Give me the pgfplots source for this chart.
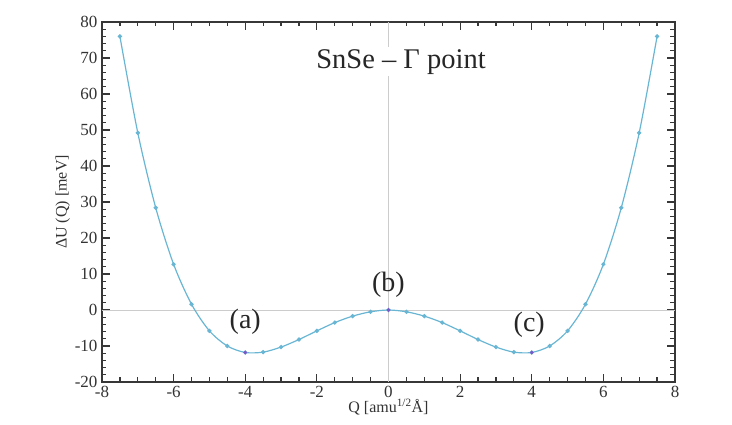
\documentclass[border=0pt]{standalone}
\usepackage{pgfplots}
\pgfplotsset{compat=1.18}
\usepackage{fontspec}
\setmainfont{Liberation Serif}
\pgfkeys{/pgf/number format/assume math mode=true}
\definecolor{curve}{RGB}{105,182,212}
\definecolor{purp}{RGB}{125,85,200}
\definecolor{frm}{RGB}{55,55,55}
\begin{document}
\begin{tikzpicture}
\path[use as bounding box] (-102pt,-43pt) rectangle (630pt,382pt);
\begin{axis}[
  at={(0pt,0pt)}, anchor=south west,
  scale only axis, width=573pt, height=360pt,
  xmin=-8, xmax=8, ymin=-20, ymax=80,
  xtick={-8,-6,...,8}, ytick={-20,-10,...,80},
  minor x tick num=3, minor y tick num=4,
  major tick length=8pt, minor tick length=4.5pt,
  axis line style={frm, line width=1.3pt},
  tick style={frm, line width=1.2pt},
  ticklabel style={font=\fontsize{17}{19}\selectfont, text=black!80},
  yticklabel style={xshift=-1pt},
  xticklabel style={yshift=-1pt},
  xlabel={Q [amu\textsuperscript{1/2}Å]},
  ylabel={ΔU (Q) [meV]},
  label style={font=\fontsize{16}{18}\selectfont, text=black!80},
  xlabel style={yshift=6pt},
  ylabel style={yshift=-2pt},
]
\draw[black!20, line width=0.8pt] (axis cs:-8,0) -- (axis cs:8,0);
\draw[black!20, line width=0.8pt] (axis cs:0,-20) -- (axis cs:0,80);
\addplot[curve, line width=1.2pt, smooth, mark=*, mark size=1.5pt, mark options={fill=curve, draw=curve}] coordinates {
(-7.5,76.0) (-7.0,49.2) (-6.5,28.4) (-6.0,12.7) (-5.5,1.6) (-5.0,-5.8)
(-4.5,-10.0) (-4.0,-11.8) (-3.5,-11.7) (-3.0,-10.3) (-2.5,-8.2) (-2.0,-5.8)
(-1.5,-3.5) (-1.0,-1.7) (-0.5,-0.5) (0.0,0.0) (0.5,-0.5) (1.0,-1.7)
(1.5,-3.5) (2.0,-5.8) (2.5,-8.2) (3.0,-10.3) (3.5,-11.7) (4.0,-11.8)
(4.5,-10.0) (5.0,-5.8) (5.5,1.6) (6.0,12.7) (6.5,28.4) (7.0,49.2) (7.5,76.0)
};
\addplot[only marks, mark=*, mark size=1.6pt, purp] coordinates {(-4,-11.8) (0,0) (4,-11.8)};
\node[fill=white, inner sep=2pt, font=\fontsize{28.5}{31}\selectfont, text=black!85] at (axis cs:0.35,68.9) {SnSe – Γ point};
\node[font=\fontsize{28}{30}\selectfont, text=black!85] at (axis cs:-4.0,-3.3) {(a)};
\node[font=\fontsize{28}{30}\selectfont, text=black!85] at (axis cs:0.0,6.9) {(b)};
\node[font=\fontsize{28}{30}\selectfont, text=black!85] at (axis cs:3.93,-4.2) {(c)};
\end{axis}
\end{tikzpicture}
\end{document}
